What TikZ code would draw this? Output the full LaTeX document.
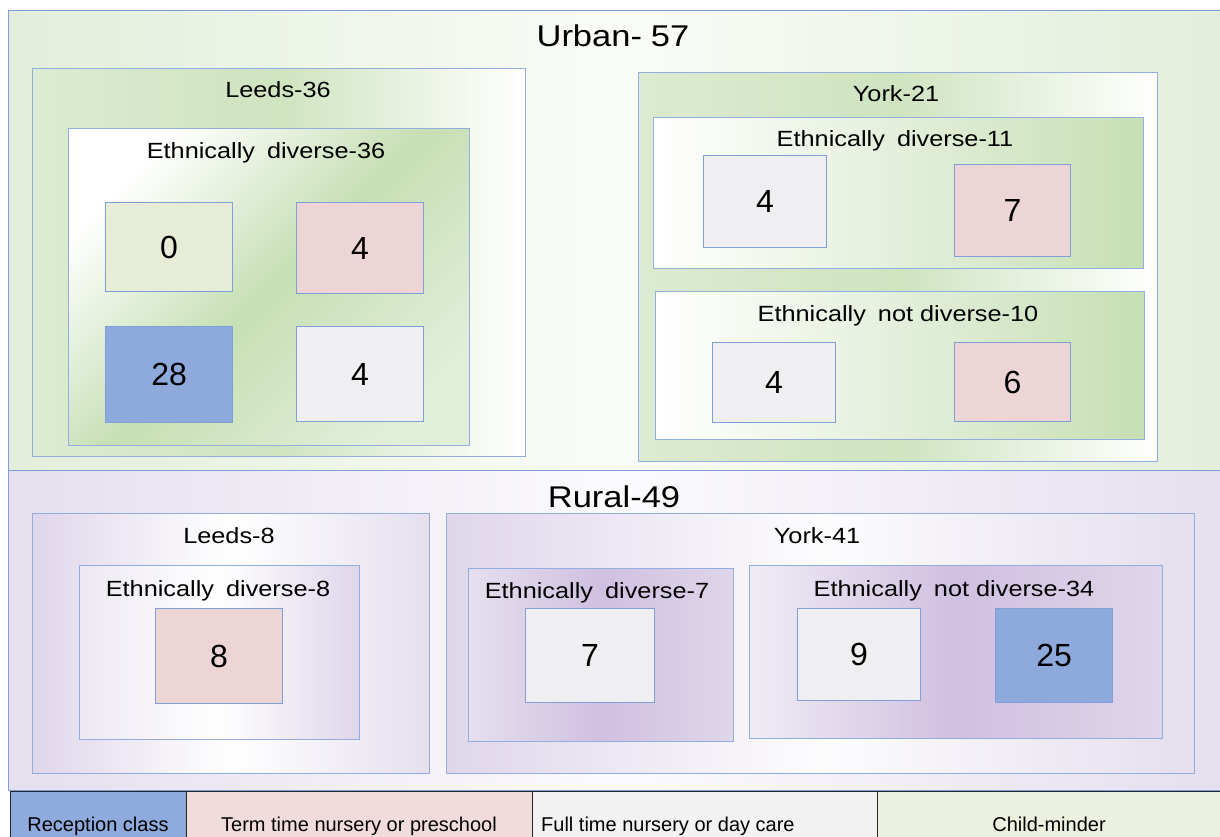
\documentclass[tikz,border=0pt]{standalone}
\usepackage{fontspec}
\setmainfont{Liberation Sans}
\newfontfamily\lblfont[FakeStretch=1.15]{Liberation Sans}

% frame and fill colours
\definecolor{frame}{HTML}{7F9FD9}
\definecolor{recep}{HTML}{8EAADC}
\definecolor{term}{HTML}{EDD5D5}
\definecolor{fullday}{HTML}{EFEFF1}
\definecolor{minder}{HTML}{E6ECD5}
\definecolor{recepL}{HTML}{8FAADC}
\definecolor{termL}{HTML}{F2DCDB}
\definecolor{fulldayL}{HTML}{F2F2F2}
\definecolor{minderL}{HTML}{EBF1DE}
\definecolor{gEdge}{HTML}{E2EEDA}
\definecolor{gSoft}{HTML}{DCEBD1}
\definecolor{gDeep}{HTML}{C6DFB4}
\definecolor{pEdge}{HTML}{E5DFEE}
\definecolor{pSoft}{HTML}{DFD6EA}
\definecolor{pDeep}{HTML}{D0C0E1}

% three-stop horizontal fill: left, right, then middle (middle must come last)
\tikzset{
  fade/.style n args={3}{left color=#1, right color=#3, middle color=#2},
  region/.style={draw=frame, line width=0.9pt, rectangle, inner sep=0pt, anchor=north west},
  group/.style={draw=frame!85, line width=1.1pt, rectangle, inner sep=0pt, anchor=north west},
  valbox/.style={draw=frame, line width=1.2pt, rectangle, inner sep=0pt, anchor=north west,
    font=\fontsize{32}{36}\selectfont},
  bigtitle/.style={anchor=base, inner sep=0pt, font=\lblfont\fontsize{30}{34}\selectfont},
  grouptitle/.style={anchor=base, inner sep=0pt, font=\lblfont\fontsize{22}{26}\selectfont},
  legbox/.style={draw=black!85, line width=1.4pt, rectangle, inner sep=0pt, anchor=north west,
    minimum height=60pt},
  legtext/.style={anchor=base, inner sep=0pt, font=\fontsize{20}{24}\selectfont},
}

\begin{document}
\begin{tikzpicture}[x=1pt, y=-1pt]
\useasboundingbox (0,0) rectangle (1220,836);
\clip (0,0) rectangle (1220,836);
\fill[white] (0,0) rectangle (1220,836);

% ---------- Urban ----------
\node[region, minimum width=1222pt, minimum height=460pt,
      fade={gEdge}{white!80!gEdge}{gEdge}] (urban) at (8,10) {};
\node[bigtitle] (urbant) at (613,46) {Urban-\hspace{9pt}57};

% Leeds (urban)
\node[group, minimum width=493pt, minimum height=388pt,
      fade={gSoft}{gDeep!85!white}{white}] (leedsU) at (32,68) {};
\node[grouptitle] (leedsUt) at (278,97) {Leeds-36};
\node[group, minimum width=401pt, minimum height=317pt,
      fade={white}{gDeep}{gSoft!85!white}, shading angle=45] (leedsUed) at (68,128) {};
\node[grouptitle] (leedsUedt) at (266,158) {Ethnically\hspace{5pt} diverse-36};
\node[valbox, fill=minder, minimum width=127pt, minimum height=89pt] (lu0) at (105,202) {0};
\node[valbox, fill=term, minimum width=127pt, minimum height=91pt] (lu4a) at (296,202) {4};
\node[valbox, fill=recep, minimum width=127pt, minimum height=96pt] (lu28) at (105,326) {28};
\node[valbox, fill=fullday, minimum width=127pt, minimum height=95pt] (lu4b) at (296,326) {4};

% York (urban)
\node[group, minimum width=519pt, minimum height=389pt,
      fade={gSoft}{gDeep!85!white}{white}] (yorkU) at (638,72) {};
\node[grouptitle] (yorkUt) at (896,101) {York-21};
\node[group, minimum width=490pt, minimum height=151pt,
      fade={white}{gSoft!80!white}{gDeep}] (yorkUed) at (653,117) {};
\node[grouptitle] (yorkUedt) at (895,146) {Ethnically\hspace{5pt} diverse-11};
\node[valbox, fill=fullday, minimum width=123pt, minimum height=92pt] (yu4a) at (703,155) {4};
\node[valbox, fill=term, minimum width=116pt, minimum height=92pt] (yu7) at (954,164) {7};
\node[group, minimum width=489pt, minimum height=148pt,
      fade={white}{gSoft!80!white}{gDeep}] (yorkUnd) at (655,291) {};
\node[grouptitle] (yorkUndt) at (898,321) {Ethnically\hspace{5pt} not diverse-10};
\node[valbox, fill=fullday, minimum width=123pt, minimum height=80pt] (yu4b) at (712,342) {4};
\node[valbox, fill=term, minimum width=116pt, minimum height=79pt] (yu6) at (954,342) {6};

% ---------- Rural ----------
\node[region, minimum width=1222pt, minimum height=320pt,
      fade={pEdge}{white!85!pEdge}{pEdge}] (rural) at (8,470) {};
\node[bigtitle] (ruralt) at (614,507) {Rural-49};

% Leeds (rural)
\node[group, minimum width=397pt, minimum height=260pt,
      fade={pSoft}{white}{pEdge}] (leedsR) at (32,513) {};
\node[grouptitle] (leedsRt) at (229,543) {Leeds-8};
\node[group, minimum width=280pt, minimum height=174pt,
      fade={pEdge!70!white}{white}{pSoft}] (leedsRed) at (79,565) {};
\node[grouptitle] (leedsRedt) at (218,596) {Ethnically\hspace{5pt} diverse-8};
\node[valbox, fill=term, minimum width=127pt, minimum height=95pt] (lr8) at (155,608) {8};

% York (rural)
\node[group, minimum width=748pt, minimum height=260pt,
      fade={pSoft}{white!90!pEdge}{pEdge}] (yorkR) at (446,513) {};
\node[grouptitle] (yorkRt) at (817,543) {York-41};
\node[group, minimum width=265pt, minimum height=173pt,
      fade={pEdge}{pDeep}{pSoft}] (yorkRed) at (468,568) {};
\node[grouptitle] (yorkRedt) at (597,598) {Ethnically\hspace{5pt} diverse-7};
\node[valbox, fill=fullday, minimum width=129pt, minimum height=94pt] (yr7) at (525,608) {7};
\node[group, minimum width=413pt, minimum height=173pt,
      fade={pEdge!60!white}{pDeep}{pSoft}] (yorkRnd) at (749,565) {};
\node[grouptitle] (yorkRndt) at (954,596) {Ethnically\hspace{5pt} not diverse-34};
\node[valbox, fill=fullday, minimum width=123pt, minimum height=92pt] (yr9) at (797,608) {9};
\node[valbox, fill=recep, minimum width=117pt, minimum height=94pt] (yr25) at (995,608) {25};

% ---------- Key ----------
\node[legbox, fill=recepL, minimum width=176pt] (keyA) at (10,791) {};
\node[legbox, fill=termL, minimum width=346pt] (keyB) at (186,791) {};
\node[legbox, fill=fulldayL, minimum width=345pt] (keyC) at (532,791) {};
\node[legbox, fill=minderL, minimum width=360pt] (keyD) at (877,791) {};
\node[legtext] (keyAt) at (98,831) {Reception class};
\node[legtext] (keyBt) at (359,831) {Term time nursery or preschool};
\node[legtext, anchor=base west] (keyCt) at (541,831) {Full time nursery or day care};
\node[legtext] (keyDt) at (1049,831) {Child-minder};
\end{tikzpicture}
\end{document}
